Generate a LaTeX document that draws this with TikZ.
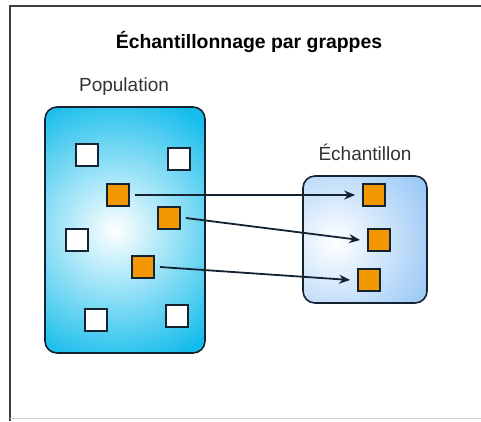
\documentclass[tikz,border=0pt]{standalone}
\usepackage{fontspec}
\setmainfont{Liberation Sans}
\usetikzlibrary{arrows.meta}
\begin{document}
\begin{tikzpicture}[x=1pt,y=-1pt,
  sq/.style={draw=edge, line width=1.7pt, minimum size=22pt, inner sep=0pt},
  whitesq/.style={sq, fill=white},
  orangesq/.style={sq, fill=sqorange},
  link/.style={draw=edge, line width=1.8pt, -{Stealth[length=11pt,width=9pt]}},
  lab/.style={font=\fontsize{19}{22}\selectfont, text=black!80},
  panel/.style={draw=edge, line width=1.6pt, rounded corners=12pt, inner sep=0pt}
]
\definecolor{popcyan}{RGB}{20,188,235}
\definecolor{samblue}{RGB}{150,198,245}
\definecolor{sqorange}{RGB}{243,152,0}
\definecolor{edge}{RGB}{20,35,50}
\useasboundingbox (0,0) rectangle (481,421);
\fill[white] (0,0) rectangle (481,421);
% frame
\draw[black!75, line width=2pt] (9.5,421) -- (9.5,5.5) -- (481,5.5);
\draw[black!20, line width=1pt] (10,418.5) -- (481,418.5);
% title
\node (title) at (249,42) {\fontsize{19.4}{22}\selectfont\bfseries Échantillonnage par grappes};
\node[lab] (poplab) at (124,87) {Population};
\node[lab] (samlab) at (365,152) {Échantillon};
% population box
\node[panel, fill=popcyan, minimum width=160pt, minimum height=246pt,
  path picture={\shade[inner color=white, outer color=popcyan]
    ([shift={(-10pt,0pt)}]path picture bounding box.center) circle (140pt);}] (pop) at (125,230) {};
% sample box
\node[panel, fill=samblue, minimum width=124pt, minimum height=127pt,
  path picture={\shade[inner color=white, outer color=samblue]
    ([shift={(-30pt,-3pt)}]path picture bounding box.center) circle (110pt);}] (sam) at (365,239.5) {};
% squares
\node[whitesq] (w1) at (87,155) {};
\node[whitesq] (w2) at (179,159) {};
\node[whitesq] (w3) at (77,240) {};
\node[whitesq] (w4) at (96,320) {};
\node[whitesq] (w5) at (177,316) {};
\node[orangesq] (o1) at (118,195) {};
\node[orangesq] (o2) at (169,218) {};
\node[orangesq] (o3) at (143,267) {};
\node[orangesq] (s1) at (374,195) {};
\node[orangesq] (s2) at (379,240) {};
\node[orangesq] (s3) at (369,280) {};
% arrows
\draw[link] ([xshift=5pt]o1.east) -- ([xshift=-7pt]s1.west);
\draw[link] ([xshift=5pt]o2.east) -- ([xshift=-7pt]s2.west);
\draw[link] ([xshift=5pt]o3.east) -- ([xshift=-7pt]s3.west);
\end{tikzpicture}
\end{document}
